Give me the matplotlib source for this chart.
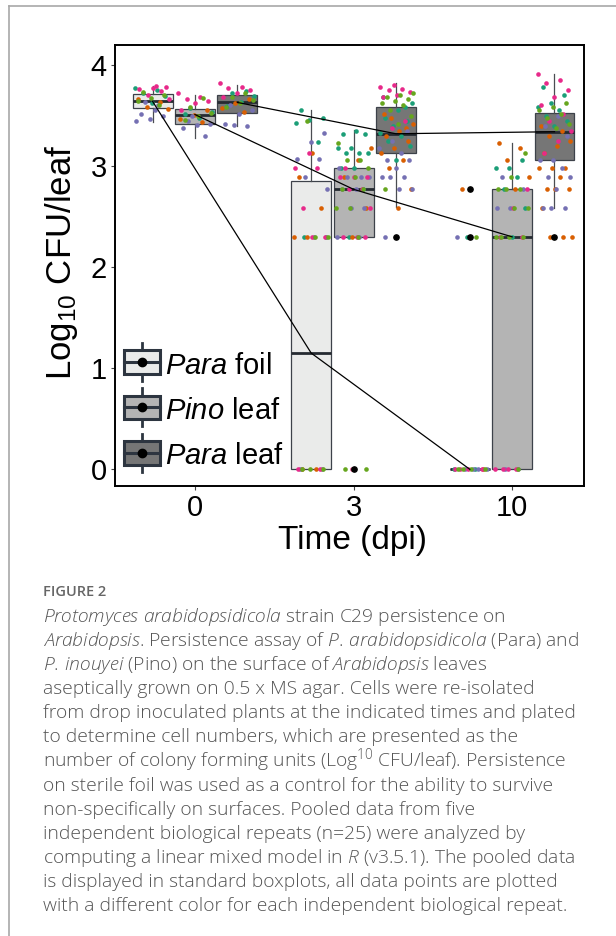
import numpy as np
import matplotlib
matplotlib.use("Agg")
import matplotlib.pyplot as plt
from matplotlib.patches import Rectangle
from matplotlib.lines import Line2D

plt.rcParams['font.family'] = ['Liberation Sans', 'DejaVu Sans']
plt.rcParams['mathtext.fontset'] = 'custom'
plt.rcParams['mathtext.it'] = 'Open Sans:italic:light'
plt.rcParams['mathtext.rm'] = 'Open Sans:light'
plt.rcParams['mathtext.sf'] = 'Liberation Sans:italic'
plt.rcParams['mathtext.default'] = 'regular'

# ---------------- data ----------------
days = ['0', '3', '10']
strains = ['Para foil', 'Pino leaf', 'Para leaf']
legend_labels = [r'$\mathsf{Para}$ foil', r'$\mathsf{Pino}$ leaf', r'$\mathsf{Para}$ leaf']
box_colors = ['#EAEBEA', '#B4B4B4', '#767676']
repeat_colors = ['#1B9E77', '#D95F02', '#7570B3', '#E7298A', '#66A61E']

# box statistics per strain, one value per day
foil_med = [3.64, 1.15, 0.0]
foil_q1 = [3.57, 0.0, 0.0]
foil_q3 = [3.71, 2.85, 0.0]
foil_lo = [3.44, 0.0, 0.0]
foil_hi = [3.79, 3.55, 0.0]
foil_out = [[], [], [2.30, 2.77]]

pino_med = [3.51, 2.77, 2.30]
pino_q1 = [3.42, 2.30, 0.0]
pino_q3 = [3.56, 2.98, 2.77]
pino_lo = [3.28, 2.30, 0.0]
pino_hi = [3.70, 3.36, 3.23]
pino_out = [[], [0.0], []]

leaf_med = [3.63, 3.32, 3.34]
leaf_q1 = [3.53, 3.13, 3.06]
leaf_q3 = [3.70, 3.58, 3.53]
leaf_lo = [3.40, 2.60, 2.59]
leaf_hi = [3.80, 3.82, 3.91]
leaf_out = [[], [2.30], [2.30]]

# individual points: per group, one list per biological repeat
foil_d0 = [[3.77, 3.75, 3.72, 3.69, 3.62],
           [3.66, 3.63, 3.58, 3.56],
           [3.55, 3.52, 3.50, 3.47, 3.45, 3.60, 3.63],
           [3.78, 3.77, 3.76, 3.74, 3.70, 3.66, 3.79],
           [3.73, 3.70, 3.67, 3.64, 3.60]]
pino_d0 = [[3.57, 3.54, 3.48, 3.52],
           [3.55, 3.51, 3.47, 3.44],
           [3.45, 3.42, 3.41, 3.38, 3.30, 3.50],
           [3.72, 3.68, 3.66, 3.64, 3.62, 3.55],
           [3.67, 3.58, 3.53, 3.50, 3.46]]
leaf_d0 = [[3.74, 3.72, 3.69, 3.63, 3.59],
           [3.66, 3.62, 3.57, 3.54],
           [3.60, 3.55, 3.52, 3.42, 3.40, 3.41],
           [3.82, 3.78, 3.77, 3.75, 3.72, 3.68],
           [3.72, 3.68, 3.65, 3.62, 3.58]]
foil_d3 = [[3.55, 3.48, 3.46, 3.43, 3.24, 2.30, 2.30],
           [3.13, 2.89, 2.59, 2.30, 2.30, 0.0, 0.0],
           [3.33, 3.24, 3.07, 3.07, 2.89, 2.77, 2.30, 0.0, 0.0],
           [3.13, 2.98, 2.98, 2.59, 2.30, 2.30, 0.0, 0.0],
           [3.45, 2.30, 2.30, 0.0, 0.0, 0.0]]
pino_d3 = [[3.35, 3.32, 3.32, 3.18, 3.18, 3.13, 3.13, 3.13, 2.98, 2.98, 2.77, 2.30],
           [3.18, 3.06, 2.89, 2.59, 2.30],
           [2.98, 2.89, 2.89, 2.89, 2.77, 2.77, 2.59, 2.59, 2.30, 2.30],
           [2.98, 2.89, 2.89, 2.89, 2.77, 2.77, 2.59, 2.30, 2.30, 2.30, 0.0],
           [3.23, 3.06, 3.06, 2.98, 2.89, 2.77, 2.77, 2.59, 2.59, 2.30, 0.0, 0.0, 0.0]]
leaf_d3 = [[3.62, 3.55, 3.48, 3.45, 3.40, 3.33, 3.30, 3.25, 3.20, 3.06, 3.68, 3.58],
           [3.48, 3.42, 3.35, 3.30, 3.25, 3.18, 3.13, 3.06, 2.98, 2.77, 2.59, 3.52, 3.38],
           [3.25, 3.18, 3.13, 3.06, 3.06, 2.98, 2.89, 2.89, 2.89, 2.77, 2.77, 2.30, 3.35],
           [3.80, 3.78, 3.76, 3.75, 3.73, 3.70, 3.68, 3.45, 3.38],
           [3.72, 3.70, 3.68, 3.66, 3.64, 3.62, 3.60, 3.55, 3.50, 3.42, 2.77]]
foil_d10 = [[2.30, 0.0, 0.0],
            [2.77, 0.0],
            [2.30, 2.30, 0.0, 0.0, 0.0, 0.0],
            [0.0, 0.0, 0.0, 0.0],
            [2.30, 0.0, 0.0, 0.0, 0.0]]
pino_d10 = [[3.06, 2.98, 2.98, 2.89, 2.77, 2.59, 2.30],
            [3.23, 3.18, 3.06, 2.89, 2.77],
            [2.89, 2.77, 2.59, 2.59, 0.0, 0.0],
            [2.77, 2.59, 2.30, 2.30, 0.0, 0.0, 0.0, 0.0],
            [3.13, 2.89, 2.77, 2.77, 2.77, 2.59, 2.59, 2.30, 2.30, 2.30, 2.30, 0.0]]
leaf_d10 = [[3.78, 3.70, 3.62, 3.58, 3.55, 3.50, 3.45, 3.40],
            [3.40, 3.35, 3.30, 3.25, 3.20, 3.13, 2.98, 2.98, 2.98, 2.89, 2.77, 2.77, 2.77, 2.59, 2.30, 2.30, 2.30],
            [3.50, 3.40, 3.30, 3.06, 3.06, 2.98, 2.89, 2.89, 2.77, 2.59, 2.59, 2.59],
            [3.91, 3.85, 3.82, 3.75, 3.68, 3.60, 3.52, 3.45, 3.35, 3.25, 3.13],
            [3.62, 3.58, 3.55, 3.52, 3.48, 3.42, 3.38]]

y_ticks = [0, 1, 2, 3, 4]

caption_title = "FIGURE 2"
caption_lines = [
    r"$\mathit{Protomyces\ arabidopsidicola}$ strain C29 persistence on",
    r"$\mathit{Arabidopsis}$. Persistence assay of $\mathit{P.\!\ arabidopsidicola}$ (Para) and",
    r"$\mathit{P.\!\ inouyei}$ (Pino) on the surface of $\mathit{Arabidopsis}$ leaves",
    "aseptically grown on 0.5 x MS agar. Cells were re-isolated",
    "from drop inoculated plants at the indicated times and plated",
    "to determine cell numbers, which are presented as the",
    r"number of colony forming units (Log$^{10}$ CFU/leaf). Persistence",
    "on sterile foil was used as a control for the ability to survive",
    "non-specifically on surfaces. Pooled data from five",
    "independent biological repeats (n=25) were analyzed by",
    r"computing a linear mixed model in $\mathit{R}$ (v3.5.1). The pooled data",
    "is displayed in standard boxplots, all data points are plotted",
    "with a different color for each independent biological repeat.",
]

# ---------------- figure ----------------
W, H = 616, 936
fig = plt.figure(figsize=(W / 100, H / 100), dpi=100)
fig.patch.set_facecolor('white')


def fx(x):
    return x / W


def fy(y):
    return 1 - y / H


ax_l, ax_r, ax_t, ax_b = 115, 584, 45, 486
ax = fig.add_axes([fx(ax_l), fy(ax_b), (ax_r - ax_l) / W, (ax_b - ax_t) / H])
ax.set_xlim(-0.504, 2.453)
ax.set_ylim(-0.165, 4.198)

stats_by_strain = [
    (foil_med, foil_q1, foil_q3, foil_lo, foil_hi, foil_out, [foil_d0, foil_d3, foil_d10]),
    (pino_med, pino_q1, pino_q3, pino_lo, pino_hi, pino_out, [pino_d0, pino_d3, pino_d10]),
    (leaf_med, leaf_q1, leaf_q3, leaf_lo, leaf_hi, leaf_out, [leaf_d0, leaf_d3, leaf_d10]),
]
dodge = [-0.267, 0.0, 0.267]
box_w = 0.252
jit = 0.11

for si, (med, q1, q3, lo, hi, out, groups) in enumerate(stats_by_strain):
    pos = [d + dodge[si] for d in range(len(days))]
    stats = []
    for d in range(len(days)):
        stats.append(dict(med=med[d], q1=q1[d], q3=q3[d], whislo=lo[d], whishi=hi[d],
                          fliers=np.array(out[d], dtype=float), label=days[d]))
    ax.bxp(stats, positions=pos, widths=box_w, patch_artist=True, showcaps=False,
           boxprops=dict(facecolor=box_colors[si], edgecolor='#3d424a', linewidth=0.9),
           medianprops=dict(color='#252a31', linewidth=2.0),
           whiskerprops=dict(color='#4a4d52', linewidth=0.9),
           flierprops=dict(marker='o', markerfacecolor='black', markeredgecolor='black',
                           markersize=3.8, zorder=3.5),
           manage_ticks=False, zorder=2)
    # jittered points
    for d, grp in enumerate(groups):
        k = 0
        for r, vals in enumerate(grp):
            xs = []
            for v in vals:
                frac = (k * 0.6180339887 + 0.37 * si + 0.21 * d) % 1.0
                xs.append(pos[d] + (frac - 0.5) * 2 * jit)
                k += 1
            ax.scatter(xs, vals, s=11, color=repeat_colors[r], linewidths=0, zorder=3)
    # median connecting line
    ax.plot(pos, med, color='black', lw=0.9, zorder=4)

ax.set_xticks(range(len(days)))
ax.set_xticklabels(days)
ax.set_yticks(y_ticks)
ax.set_yticklabels([str(t) for t in y_ticks])
ax.tick_params(axis='both', length=3, width=0.8, color='#444444', labelsize=21,
               labelcolor='black', pad=3)
for sp in ax.spines.values():
    sp.set_color('black')
    sp.set_linewidth(1.4)

fig.text(fx(62), fy(262), r'Log$_{10}$ CFU/leaf', rotation=90, fontsize=25,
         ha='center', va='center')
fig.text(fx(352), fy(541), 'Time (dpi)', fontsize=24, ha='center', va='center')

# legend (drawn manually in ggplot style)
leg_tops = [350.0, 395.5, 441.0]
for i in range(3):
    top = leg_tops[i]
    h = 23.5
    cx = 141.7
    fig.add_artist(Line2D([fx(cx), fx(cx)], [fy(top - 7.5), fy(top + h + 7.5)],
                          color='#2d3540', lw=2.0, zorder=5))
    fig.add_artist(Rectangle((fx(124), fy(top + h)), 35.5 / W, h / H, transform=fig.transFigure,
                             facecolor=box_colors[i], edgecolor='#2d3540', lw=2.2, zorder=6))
    fig.add_artist(Line2D([fx(124), fx(159.5)], [fy(top + h / 2), fy(top + h / 2)],
                          color='#2d3540', lw=2.2, zorder=7))
    fig.add_artist(Line2D([fx(cx)], [fy(top + h / 2)], marker='o', markersize=6,
                          color='black', lw=0, zorder=8))
    fig.text(fx(165), fy(top + h), legend_labels[i], fontsize=21, ha='left', va='baseline',
             zorder=8)

# outer figure frame (left and top)
fig.add_artist(Line2D([fx(9), fx(9)], [fy(6), 0], color='#a8a8a8', lw=1.2))
fig.add_artist(Line2D([fx(9), 1], [fy(6), fy(6)], color='#a8a8a8', lw=1.2))

# caption
fig.text(fx(43), fy(596), caption_title, fontsize=10.5, fontfamily='Open Sans',
         fontweight='semibold', color='#666666', ha='left', va='baseline')
for i, line in enumerate(caption_lines):
    fig.text(fx(43), fy(622 + 24.08 * i), line, fontsize=13.9, fontfamily='Open Sans',
             fontweight='light', color='#555555', ha='left', va='baseline')

fig.savefig('out.png', dpi=100, facecolor='white')
